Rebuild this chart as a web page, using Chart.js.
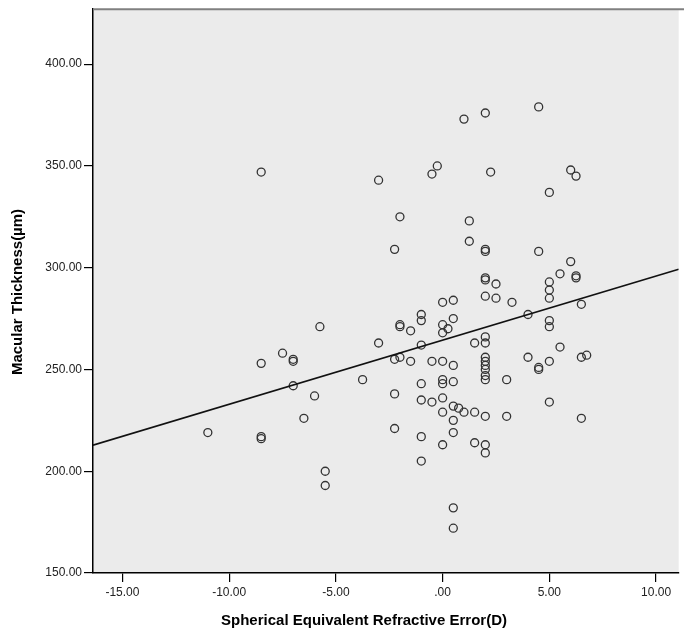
<!DOCTYPE html>
<html>
<head>
<meta charset="utf-8">
<script src="https://cdn.jsdelivr.net/npm/chart.js@4"></script>
<style>
  html, body { margin: 0; padding: 0; background: #fff; }
  #wrap { width: 684px; height: 635px; }
</style>
</head>
<body>
<div id="wrap"><canvas id="chart" width="684" height="635"></canvas></div>
<script>
// refractive error (D) and macular thickness (µm)
const seX = [
  -8.5, -3.0, -0.5, -0.25, 1.0, 2.0, 4.5, 2.25, 6.0, 6.25, 5.0,
  -8.5, -7.5, -2.0, 1.25, -2.25, 1.25, 0, 0.5, -5.75, -2.0, -2.0,
  -1.5, -1.0, -1.0, 0, 0, 0.25, 0.5, 1.5, -3.0, -1.0, -7.0, -7.0,
  -2.25, -2.0, -1.5, -0.5, 0, 0.5, -7.0, -3.75, -1.0, 0, 0, 0.5,
  2.0, 2.0, 4.5, 6.0, 5.5, 6.25, 6.25, 2.0, 2.0, 2.5, 5.0, 5.0, 5.0,
  2.0, 2.5, 3.25, 6.5, 4.0, 5.0, 5.0, 2.0, 2.0, 5.5, 4.0, 5.0, 6.5,
  6.75, 4.5, 4.5, 2.0, 2.0, 2.0, 2.0, 2.0, 2.0, 3.0,
  -11.0, -8.5, -8.5, -6.0, -6.5, -2.25, -2.25, -1.0, -0.5, 0, 0, 0.5,
  0.75, 1.0, 1.5, 0.5, 0.5, -1.0, 0, 1.5, -1.0, -5.5, -5.5, 0.5, 0.5,
  2.0, 3.0, 5.0, 6.5, 2.0, 2.0
];
const thickness = [
  347, 343, 346, 350, 373, 376, 379, 347, 348, 345, 337,
  253, 258, 325, 323, 309, 313, 283, 284, 271, 272, 271,
  269, 277, 274, 272, 268, 270, 275, 263, 263, 262, 255, 254,
  255, 256, 254, 254, 254, 252, 242, 245, 243, 245, 243, 244,
  308, 309, 308, 303, 297, 295, 296, 294, 295, 292, 293, 289, 285,
  286, 285, 283, 282, 277, 274, 271, 266, 263, 261, 256, 254, 256,
  257, 250, 251, 256, 254, 252, 250, 247, 245, 245,
  219, 216, 217, 237, 226, 238, 221, 235, 234, 236, 229, 232,
  231, 229, 229, 225, 219, 217, 213, 214, 205, 200, 193, 182, 172,
  227, 227, 234, 226, 213, 209
];

// fit line end points as drawn (edge to edge)
const fitX = [-16.38, 11.06];
const fitY = [212.8, 299.2];

const xTicks = [-15, -10, -5, 0, 5, 10];
const yTicks = [150, 200, 250, 300, 350, 400];

const fmt = v => v === 0 ? '.00' : v.toFixed(2);

const plotFrame = {
  id: 'plotFrame',
  beforeDraw(chart) {
    const { ctx, chartArea: a } = chart;
    ctx.save();
    ctx.fillStyle = '#ebebeb';
    ctx.fillRect(a.left, a.top, a.right - a.left, a.bottom - a.top);
    ctx.restore();
  },
  afterDraw(chart) {
    const { ctx, chartArea: a } = chart;
    ctx.save();
    ctx.strokeStyle = '#808080';
    ctx.lineWidth = 2;
    ctx.beginPath();
    ctx.moveTo(a.left, a.top);
    ctx.lineTo(684, a.top);
    ctx.stroke();
    // axis titles
    ctx.fillStyle = '#000';
    ctx.font = 'bold 15px "Liberation Sans", Arial, sans-serif';
    ctx.textAlign = 'center';
    ctx.textBaseline = 'middle';
    ctx.fillText('Spherical Equivalent Refractive Error(D)', 364, 621);
    ctx.translate(18, 292);
    ctx.rotate(-Math.PI / 2);
    ctx.fillText('Macular Thickness(µm)', 0, 0);
    ctx.restore();
  }
};

const pts = seX.map((x, i) => ({ x, y: thickness[i] }));
const fitPts = fitX.map((x, i) => ({ x, y: fitY[i] }));

new Chart(document.getElementById('chart').getContext('2d'), {
  type: 'scatter',
  data: {
    datasets: [
      { label: 'Fit', type: 'line', data: fitPts, borderColor: '#111', borderWidth: 1.6, pointRadius: 0, fill: false, tension: 0 },
      { label: 'Eyes', data: pts, pointRadius: 4, pointBorderWidth: 1.3, borderColor: '#333', backgroundColor: 'rgba(0,0,0,0)', pointHoverRadius: 4 },
    ],
  },
  options: {
    responsive: false,
    animation: false,
    layout: { padding: { left: 0, top: 8, right: 2, bottom: 0 } },
    plugins: { legend: { display: false }, tooltip: { enabled: false } },
    scales: {
      x: {
        type: 'linear', min: -16.38, max: 11.06,
        afterBuildTicks: s => { s.ticks = xTicks.map(v => ({ value: v })); },
        afterFit: s => { s.height = 62; },
        ticks: { callback: fmt, color: '#222', font: { size: 12, family: '"Liberation Sans", Arial, sans-serif' }, padding: 3, maxRotation: 0 },
        grid: { drawOnChartArea: false, tickLength: 9, color: '#000', lineWidth: 1.2 },
        border: { color: '#000', width: 1.5 },
      },
      y: {
        type: 'linear', min: 150, max: 427,
        afterBuildTicks: s => { s.ticks = yTicks.map(v => ({ value: v })); },
        afterFit: s => { s.width = 93; },
        ticks: { callback: fmt, color: '#222', font: { size: 12, family: '"Liberation Sans", Arial, sans-serif' }, padding: 2 },
        grid: { drawOnChartArea: false, tickLength: 9, color: '#000', lineWidth: 1.2 },
        border: { color: '#000', width: 1.5 },
      },
    },
  },
  plugins: [plotFrame],
});
</script>
</body>
</html>
